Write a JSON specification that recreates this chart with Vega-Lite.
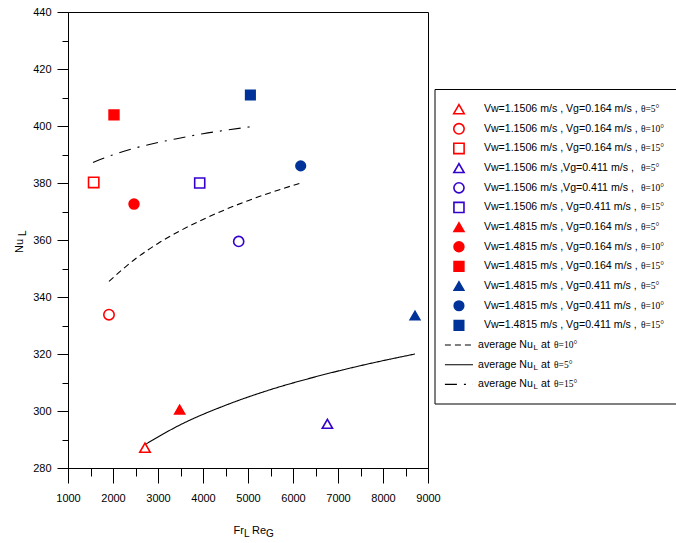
{
  "$schema": "https://vega.github.io/schema/vega-lite/v6.json",
  "width": 360,
  "height": 456,
  "autosize": {"type": "none"},
  "padding": {"left": 68, "top": 12, "right": 248, "bottom": 75},
  "background": "white",
  "config": {
    "view": {"stroke": "black", "strokeWidth": 1},
    "font": "Liberation Sans",
    "axis": {"grid": false, "domainColor": "black", "tickColor": "black", "labelColor": "black", "labelFont": "Liberation Sans", "labelFontSize": 11, "title": null, "domainWidth": 1, "tickWidth": 1, "labelFlush": false, "labelOverlap": false}
  },
  "datasets": {
    "pts": [
      {"fr": 2711, "nu": 287.1, "key": "1.1506/0.164/5", "theta": "5", "row": 1, "label": "Vw=1.1506 m/s , Vg=0.164 m/s , ", "th": "θ=5°"},
      {"fr": 1911, "nu": 333.8, "key": "1.1506/0.164/10", "theta": "10", "row": 2, "label": "Vw=1.1506 m/s , Vg=0.164 m/s , ", "th": "θ=10°"},
      {"fr": 1571, "nu": 380.2, "key": "1.1506/0.164/15", "theta": "15", "row": 3, "label": "Vw=1.1506 m/s , Vg=0.164 m/s , ", "th": "θ=15°"},
      {"fr": 6764, "nu": 295.5, "key": "1.1506/0.411/5", "theta": "5", "row": 4, "label": "Vw=1.1506 m/s ,Vg=0.411 m/s , ", "th": "θ=5°"},
      {"fr": 4793, "nu": 359.5, "key": "1.1506/0.411/10", "theta": "10", "row": 5, "label": "Vw=1.1506 m/s ,Vg=0.411 m/s , ", "th": "θ=10°"},
      {"fr": 3927, "nu": 380.0, "key": "1.1506/0.411/15", "theta": "15", "row": 6, "label": "Vw=1.1506 m/s , Vg=0.411 m/s , ", "th": "θ=15°"},
      {"fr": 3482, "nu": 300.5, "key": "1.4815/0.164/5", "theta": "5", "row": 7, "label": "Vw=1.4815 m/s , Vg=0.164 m/s , ", "th": "θ=5°"},
      {"fr": 2467, "nu": 372.6, "key": "1.4815/0.164/10", "theta": "10", "row": 8, "label": "Vw=1.4815 m/s , Vg=0.164 m/s , ", "th": "θ=10°"},
      {"fr": 2022, "nu": 403.9, "key": "1.4815/0.164/15", "theta": "15", "row": 9, "label": "Vw=1.4815 m/s , Vg=0.164 m/s , ", "th": "θ=15°"},
      {"fr": 8711, "nu": 333.5, "key": "1.4815/0.411/5", "theta": "5", "row": 10, "label": "Vw=1.4815 m/s , Vg=0.411 m/s , ", "th": "θ=5°"},
      {"fr": 6171, "nu": 386.0, "key": "1.4815/0.411/10", "theta": "10", "row": 11, "label": "Vw=1.4815 m/s , Vg=0.411 m/s , ", "th": "θ=10°"},
      {"fr": 5053, "nu": 410.9, "key": "1.4815/0.411/15", "theta": "15", "row": 12, "label": "Vw=1.4815 m/s , Vg=0.411 m/s , ", "th": "θ=15°"}
    ],
    "fits": [
      {"fit": "5", "fr": 2711, "nu": 288.2}, {"fit": "5", "fr": 3500, "nu": 295.2}, {"fit": "5", "fr": 4500, "nu": 302.0}, {"fit": "5", "fr": 5500, "nu": 307.5}, {"fit": "5", "fr": 6500, "nu": 312.0}, {"fit": "5", "fr": 7500, "nu": 315.9}, {"fit": "5", "fr": 8711, "nu": 320.0},
      {"fit": "10", "fr": 1911, "nu": 345.5}, {"fit": "10", "fr": 2500, "nu": 353.4}, {"fit": "10", "fr": 3000, "nu": 358.8}, {"fit": "10", "fr": 3500, "nu": 363.3}, {"fit": "10", "fr": 4000, "nu": 367.2}, {"fit": "10", "fr": 4500, "nu": 370.7}, {"fit": "10", "fr": 5000, "nu": 373.8}, {"fit": "10", "fr": 5500, "nu": 376.6}, {"fit": "10", "fr": 6171, "nu": 380.0},
      {"fit": "15", "fr": 1556, "nu": 387.2}, {"fit": "15", "fr": 2000, "nu": 389.9}, {"fit": "15", "fr": 2500, "nu": 392.3}, {"fit": "15", "fr": 3000, "nu": 394.2}, {"fit": "15", "fr": 3500, "nu": 395.8}, {"fit": "15", "fr": 4000, "nu": 397.3}, {"fit": "15", "fr": 4500, "nu": 398.5}, {"fit": "15", "fr": 5076, "nu": 399.8}
    ],
    "fitlegend": [
      {"fit": "10", "row": 13, "th": "θ=10°"},
      {"fit": "5", "row": 14, "th": "θ=5°"},
      {"fit": "15", "row": 15, "th": "θ=15°"}
    ],
    "one": [{}]
  },
  "layer": [
    {
      "layer": [
        {
          "data": {"name": "fits"},
          "mark": {"type": "line", "color": "black", "strokeWidth": 1.1, "interpolate": "monotone"},
          "encoding": {
            "x": {"field": "fr", "type": "quantitative", "scale": {"domain": [1000, 9000], "nice": false, "zero": false}, "axis": {"orient": "bottom", "values": [1500, 2500, 3500, 4500, 5500, 6500, 7500, 8500], "tickSize": 8, "labels": false, "domain": false}},
            "y": {"field": "nu", "type": "quantitative", "scale": {"domain": [280, 440], "nice": false, "zero": false}, "axis": {"orient": "left", "values": [290, 310, 330, 350, 370, 390, 410, 430], "tickSize": 6, "labels": false, "domain": false}},
            "detail": {"field": "fit"},
            "strokeDash": {"field": "fit", "type": "nominal", "scale": {"domain": ["5", "10", "15"], "range": [[1, 0], [6, 4], [12, 7, 2, 7]]}, "legend": null}
          }
        },
        {
          "data": {"name": "pts"},
          "mark": {"type": "point", "strokeWidth": 1.6, "opacity": 1},
          "encoding": {
            "x": {"field": "fr", "type": "quantitative", "axis": {"orient": "bottom", "values": [1000, 2000, 3000, 4000, 5000, 6000, 7000, 8000, 9000], "tickSize": 15, "labelPadding": 9, "format": "d"}},
            "y": {"field": "nu", "type": "quantitative", "axis": {"orient": "left", "values": [280, 300, 320, 340, 360, 380, 400, 420, 440], "tickSize": 11, "labelPadding": 6, "format": "d"}},
            "shape": {"field": "theta", "type": "nominal", "scale": {"domain": ["5", "10", "15"], "range": ["triangle-up", "circle", "square"]}, "legend": null},
            "stroke": {"field": "key", "type": "nominal", "scale": {"domain": ["1.1506/0.164/5", "1.1506/0.164/10", "1.1506/0.164/15", "1.1506/0.411/5", "1.1506/0.411/10", "1.1506/0.411/15", "1.4815/0.164/5", "1.4815/0.164/10", "1.4815/0.164/15", "1.4815/0.411/5", "1.4815/0.411/10", "1.4815/0.411/15"], "range": ["#ff0000", "#ff0000", "#ff0000", "#3300cc", "#3300cc", "#3300cc", "#ff0000", "#ff0000", "#ff0000", "#003399", "#003399", "#003399"]}, "legend": null},
            "fill": {"field": "key", "type": "nominal", "scale": {"domain": ["1.1506/0.164/5", "1.1506/0.164/10", "1.1506/0.164/15", "1.1506/0.411/5", "1.1506/0.411/10", "1.1506/0.411/15", "1.4815/0.164/5", "1.4815/0.164/10", "1.4815/0.164/15", "1.4815/0.411/5", "1.4815/0.411/10", "1.4815/0.411/15"], "range": ["transparent", "transparent", "transparent", "transparent", "transparent", "transparent", "#ff0000", "#ff0000", "#ff0000", "#003399", "#003399", "#003399"]}, "legend": null},
            "size": {"field": "key", "type": "nominal", "scale": {"domain": ["1.1506/0.164/5", "1.1506/0.164/10", "1.1506/0.164/15", "1.1506/0.411/5", "1.1506/0.411/10", "1.1506/0.411/15", "1.4815/0.164/5", "1.4815/0.164/10", "1.4815/0.164/15", "1.4815/0.411/5", "1.4815/0.411/10", "1.4815/0.411/15"], "range": [110, 90, 90, 50, 90, 90, 110, 100, 100, 100, 100, 100]}, "legend": null}
          }
        },
        {
          "data": {"name": "one"},
          "mark": {"type": "text", "text": "Nu", "angle": 270, "align": "right", "baseline": "middle", "dx": 1, "dy": -48, "fontSize": 11, "font": "Liberation Sans", "color": "black"},
          "encoding": {"x": {"datum": 1000, "type": "quantitative", "axis": null}, "y": {"datum": 360, "type": "quantitative", "axis": null}}
        },
        {
          "data": {"name": "one"},
          "mark": {"type": "text", "text": "L", "angle": 270, "align": "left", "baseline": "middle", "dx": 4, "dy": -45, "fontSize": 10, "font": "Liberation Sans", "color": "black"},
          "encoding": {"x": {"datum": 1000, "type": "quantitative", "axis": null}, "y": {"datum": 360, "type": "quantitative", "axis": null}}
        },
        {
          "data": {"name": "one"},
          "mark": {"type": "text", "text": "Fr", "align": "right", "baseline": "middle", "dx": -4, "dy": 63, "fontSize": 11, "font": "Liberation Sans", "color": "black"},
          "encoding": {"x": {"datum": 5000, "type": "quantitative", "axis": null}, "y": {"datum": 280, "type": "quantitative", "axis": null}}
        },
        {
          "data": {"name": "one"},
          "mark": {"type": "text", "text": "L", "align": "left", "baseline": "middle", "dx": -4, "dy": 66, "fontSize": 10, "font": "Liberation Sans", "color": "black"},
          "encoding": {"x": {"datum": 5000, "type": "quantitative", "axis": null}, "y": {"datum": 280, "type": "quantitative", "axis": null}}
        },
        {
          "data": {"name": "one"},
          "mark": {"type": "text", "text": "Re", "align": "left", "baseline": "middle", "dx": 4, "dy": 63, "fontSize": 11, "font": "Liberation Sans", "color": "black"},
          "encoding": {"x": {"datum": 5000, "type": "quantitative", "axis": null}, "y": {"datum": 280, "type": "quantitative", "axis": null}}
        },
        {
          "data": {"name": "one"},
          "mark": {"type": "text", "text": "G", "align": "left", "baseline": "middle", "dx": 18, "dy": 66, "fontSize": 10, "font": "Liberation Sans", "color": "black"},
          "encoding": {"x": {"datum": 5000, "type": "quantitative", "axis": null}, "y": {"datum": 280, "type": "quantitative", "axis": null}}
        }
      ],
      "resolve": {"axis": {"x": "independent", "y": "independent"}}
    },
    {
      "layer": [
        {
          "data": {"name": "one"},
          "mark": {"type": "rect", "fill": "white", "stroke": "black", "strokeWidth": 1},
          "encoding": {
            "x": {"datum": 0, "type": "quantitative", "scale": {"domain": [0, 100], "range": [367, 609], "nice": false, "zero": false}, "axis": null},
            "x2": {"datum": 115},
            "y": {"datum": 0, "type": "quantitative", "scale": {"domain": [0, 16], "range": [77.5, 392], "nice": false, "zero": false}, "axis": null},
            "y2": {"datum": 16}
          }
        },
        {
          "data": {"name": "pts"},
          "mark": {"type": "point", "strokeWidth": 1.6, "opacity": 1},
          "encoding": {
            "x": {"datum": 9.9, "type": "quantitative", "axis": null},
            "y": {"field": "row", "type": "quantitative", "axis": null},
            "shape": {"field": "theta", "type": "nominal", "legend": null},
            "stroke": {"field": "key", "type": "nominal", "legend": null},
            "fill": {"field": "key", "type": "nominal", "legend": null},
            "size": {"field": "key", "type": "nominal", "legend": null}
          }
        },
        {
          "data": {"name": "pts"},
          "mark": {"type": "text", "align": "left", "baseline": "middle", "fontSize": 10.6, "font": "Liberation Sans", "color": "black"},
          "encoding": {
            "x": {"datum": 20.2, "type": "quantitative", "axis": null},
            "y": {"field": "row", "type": "quantitative", "axis": null},
            "text": {"field": "label"}
          }
        },
        {
          "data": {"name": "pts"},
          "mark": {"type": "text", "align": "left", "baseline": "middle", "fontSize": 9.5, "font": "Liberation Serif", "color": "black"},
          "encoding": {
            "x": {"datum": 85.1, "type": "quantitative", "axis": null},
            "y": {"field": "row", "type": "quantitative", "axis": null},
            "text": {"field": "th"}
          }
        },
        {
          "data": {"name": "fitlegend"},
          "mark": {"type": "rule", "color": "black", "strokeWidth": 1.1},
          "encoding": {
            "x": {"datum": 4.1, "type": "quantitative", "axis": null},
            "x2": {"datum": 15.7},
            "y": {"field": "row", "type": "quantitative", "axis": null},
            "strokeDash": {"field": "fit", "type": "nominal", "legend": null}
          }
        },
        {
          "data": {"name": "fitlegend"},
          "mark": {"type": "text", "text": "average Nu", "align": "left", "baseline": "middle", "fontSize": 10.6, "font": "Liberation Sans", "color": "black"},
          "encoding": {
            "x": {"datum": 17.8, "type": "quantitative", "axis": null},
            "y": {"field": "row", "type": "quantitative", "axis": null}
          }
        },
        {
          "data": {"name": "fitlegend"},
          "mark": {"type": "text", "text": "L", "align": "left", "baseline": "middle", "fontSize": 8, "dy": 3, "font": "Liberation Sans", "color": "black"},
          "encoding": {
            "x": {"datum": 40.7, "type": "quantitative", "axis": null},
            "y": {"field": "row", "type": "quantitative", "axis": null}
          }
        },
        {
          "data": {"name": "fitlegend"},
          "mark": {"type": "text", "text": "at", "align": "left", "baseline": "middle", "fontSize": 10.6, "font": "Liberation Sans", "color": "black"},
          "encoding": {
            "x": {"datum": 43.8, "type": "quantitative", "axis": null},
            "y": {"field": "row", "type": "quantitative", "axis": null}
          }
        },
        {
          "data": {"name": "fitlegend"},
          "mark": {"type": "text", "align": "left", "baseline": "middle", "fontSize": 9.5, "font": "Liberation Serif", "color": "black"},
          "encoding": {
            "x": {"datum": 49.2, "type": "quantitative", "axis": null},
            "y": {"field": "row", "type": "quantitative", "axis": null},
            "text": {"field": "th"}
          }
        }
      ]
    }
  ],
  "resolve": {"scale": {"x": "independent", "y": "independent"}}
}
